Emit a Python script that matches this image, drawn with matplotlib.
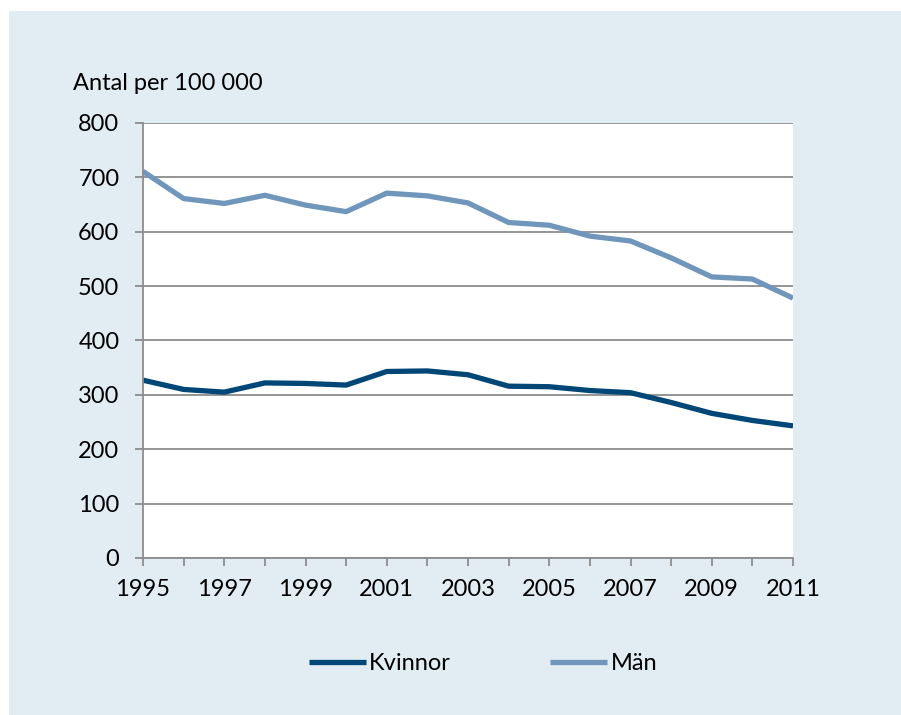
import matplotlib.pyplot as plt
from matplotlib.patches import Rectangle

# data
years = list(range(1995, 2012))
kvinnor = [327, 310, 305, 322, 321, 318, 343, 344, 337, 316, 315, 308, 304, 286, 266, 253, 243]
man = [711, 661, 652, 667, 649, 637, 671, 666, 653, 617, 612, 592, 583, 552, 517, 513, 478]
xticks = list(range(1995, 2012, 2))
yticks = list(range(0, 801, 100))

bg = "#e1ecf3"
grid_col = "#8c8c8c"
c_kv = "#004677"
c_man = "#7097bb"
fs = 17

plt.rcParams["font.family"] = ["Lato", "DejaVu Sans"]

fig = plt.figure(figsize=(9.01, 7.15), dpi=100)
fig.patch.set_facecolor("white")
# light blue panel with a thin white margin at top/left
fig.patches.append(Rectangle((9 / 901, 0), 1, 1 - 11 / 715, transform=fig.transFigure,
                             facecolor=bg, edgecolor="none", zorder=-5))

ax = fig.add_axes([143 / 901, 1 - 558 / 715, 650 / 901, 435 / 715])
ax.set_facecolor("white")

ax.plot(years, kvinnor, color=c_kv, lw=3.8, label="Kvinnor", solid_capstyle="butt")
ax.plot(years, man, color=c_man, lw=3.8, label="Män", solid_capstyle="butt")

ax.set_xlim(1995, 2011)
ax.set_ylim(0, 800)
ax.set_xticks(years, minor=True)
ax.set_xticks(xticks)
ax.set_yticks(yticks)
ax.grid(axis="y", color=grid_col, lw=1.3)
ax.set_axisbelow(True)

for s in ["top", "right"]:
    ax.spines[s].set_visible(False)
for s in ["left", "bottom"]:
    ax.spines[s].set_color(grid_col)
    ax.spines[s].set_linewidth(1.3)

ax.tick_params(axis="both", which="both", color=grid_col, width=1.3, length=6,
               labelsize=fs, labelcolor="black")
ax.tick_params(axis="y", pad=11)
ax.tick_params(axis="x", pad=9)

fig.text(73 / 901, 1 - 83 / 715, "Antal per 100 000", fontsize=fs, va="center", ha="left")

fig.legend(loc="center", bbox_to_anchor=(483 / 901, 1 - 664 / 715), ncol=2, frameon=False,
           fontsize=fs, handlelength=2.4, handletextpad=0.15, columnspacing=4.2)

plt.savefig("out.png", dpi=100, facecolor=fig.get_facecolor())
